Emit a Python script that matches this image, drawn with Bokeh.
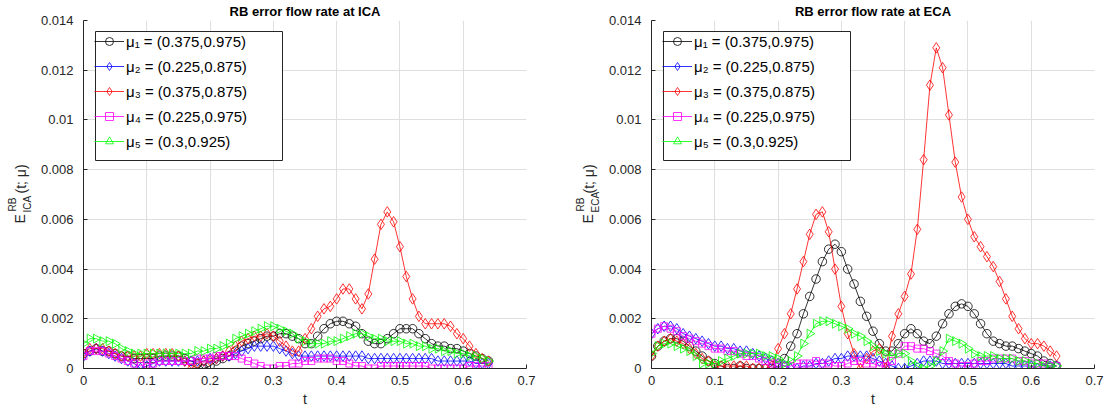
import math
from bokeh.plotting import figure
from bokeh.models import (Range1d, FixedTicker, CustomJSTickFormatter, Legend,
                          LegendItem, Label, BoxAnnotation)
from bokeh.layouts import row
from bokeh.embed import file_html
from bokeh.resources import INLINE

# ---------------- data ----------------
t = [0.00, 0.01, 0.02, 0.03, 0.04, 0.05, 0.06, 0.07, 0.08, 0.09,
     0.10, 0.11, 0.12, 0.13, 0.14, 0.15, 0.16, 0.17, 0.18, 0.19,
     0.20, 0.21, 0.22, 0.23, 0.24, 0.25, 0.26, 0.27, 0.28, 0.29,
     0.30, 0.31, 0.32, 0.33, 0.34, 0.35, 0.36, 0.37, 0.38, 0.39,
     0.40, 0.41, 0.42, 0.43, 0.44, 0.45, 0.46, 0.47, 0.48, 0.49,
     0.50, 0.51, 0.52, 0.53, 0.54, 0.55, 0.56, 0.57, 0.58, 0.59,
     0.60, 0.61, 0.62, 0.63, 0.64]

# ICA panel
ica_mu1 = [0.0006, 0.0007, 0.0008, 0.0007, 0.0007, 0.0006, 0.0005, 0.0005, 0.0004, 0.0004,
           0.0004, 0.0004, 0.0005, 0.0005, 0.0005, 0.0005, 0.0004, 0.0003, 0.0002, 0.0000,
           0.0001, 0.0003, 0.0004, 0.0005, 0.0007, 0.0009, 0.0010, 0.0011, 0.0012, 0.0013,
           0.0013, 0.0014, 0.0014, 0.0013, 0.0012, 0.0010, 0.0010, 0.0013, 0.0016, 0.0018,
           0.0019, 0.0019, 0.0018, 0.0017, 0.0014, 0.0011, 0.0010, 0.0010, 0.0012, 0.0014,
           0.0016, 0.0016, 0.0016, 0.0014, 0.0012, 0.0010, 0.0009, 0.0009, 0.0008, 0.0008,
           0.0007, 0.0006, 0.0005, 0.0004, 0.0003]
ica_mu2 = [0.0005, 0.0007, 0.0008, 0.0007, 0.0006, 0.0005, 0.0004, 0.0003, 0.0002, 0.0000,
           0.0001, 0.0002, 0.0003, 0.0003, 0.0003, 0.0003, 0.0003, 0.0003, 0.0003, 0.0003,
           0.0004, 0.0004, 0.0005, 0.0005, 0.0006, 0.0007, 0.0008, 0.0009, 0.0009, 0.0009,
           0.0009, 0.0008, 0.0007, 0.0006, 0.0005, 0.0005, 0.0005, 0.0005, 0.0005, 0.0005,
           0.0005, 0.0005, 0.0005, 0.0005, 0.0005, 0.0004, 0.0004, 0.0004, 0.0004, 0.0004,
           0.0004, 0.0004, 0.0004, 0.0004, 0.0004, 0.0004, 0.0003, 0.0003, 0.0003, 0.0003,
           0.0003, 0.0003, 0.0002, 0.0002, 0.0002]
ica_mu3 = [0.0006, 0.0008, 0.0008, 0.0008, 0.0007, 0.0006, 0.0005, 0.0005, 0.0005, 0.0005,
           0.0006, 0.0006, 0.0006, 0.0006, 0.0006, 0.0005, 0.0003, 0.0000, 0.0002, 0.0003,
           0.0003, 0.0004, 0.0005, 0.0007, 0.0009, 0.0011, 0.0012, 0.0013, 0.0013, 0.0014,
           0.0013, 0.0011, 0.0009, 0.0007, 0.0007, 0.0012, 0.0016, 0.0021, 0.0024, 0.0025,
           0.0028, 0.0032, 0.0032, 0.0028, 0.0024, 0.0030, 0.0044, 0.0058, 0.0063, 0.0059,
           0.0049, 0.0037, 0.0028, 0.0021, 0.0018, 0.0018, 0.0018, 0.0018, 0.0017, 0.0014,
           0.0012, 0.0009, 0.0006, 0.0004, 0.0003]
ica_mu4 = [0.0005, 0.0007, 0.0007, 0.0007, 0.0006, 0.0005, 0.0004, 0.0003, 0.0002, 0.0001,
           0.0002, 0.0002, 0.0003, 0.0003, 0.0003, 0.0003, 0.0003, 0.0003, 0.0004, 0.0004,
           0.0004, 0.0005, 0.0005, 0.0005, 0.0005, 0.0004, 0.0003, 0.0002, 0.0001, 0.0000,
           0.0000, 0.0001, 0.0001, 0.0002, 0.0002, 0.0003, 0.0003, 0.0004, 0.0004, 0.0004,
           0.0003, 0.0003, 0.0002, 0.0001, 0.0001, 0.0000, 0.0000, 0.0001, 0.0001, 0.0001,
           0.0001, 0.0001, 0.0001, 0.0001, 0.0001, 0.0000, 0.0000, 0.0000, 0.0000, 0.0000,
           0.0000, 0.0001, 0.0001, 0.0001, 0.0001]
ica_mu5 = [0.0010, 0.0012, 0.0012, 0.0011, 0.0011, 0.0010, 0.0008, 0.0007, 0.0006, 0.0006,
           0.0006, 0.0006, 0.0006, 0.0006, 0.0006, 0.0006, 0.0006, 0.0006, 0.0007, 0.0007,
           0.0008, 0.0008, 0.0009, 0.0010, 0.0012, 0.0013, 0.0014, 0.0015, 0.0016, 0.0017,
           0.0017, 0.0016, 0.0015, 0.0014, 0.0012, 0.0011, 0.0010, 0.0010, 0.0010, 0.0011,
           0.0011, 0.0012, 0.0013, 0.0014, 0.0014, 0.0013, 0.0012, 0.0012, 0.0011, 0.0011,
           0.0011, 0.0010, 0.0010, 0.0009, 0.0009, 0.0008, 0.0008, 0.0007, 0.0007, 0.0006,
           0.0006, 0.0005, 0.0005, 0.0004, 0.0003]

# ECA panel
eca_mu1 = [0.0005, 0.0009, 0.0011, 0.0012, 0.0012, 0.0011, 0.0009, 0.0007, 0.0005, 0.0003,
           0.0002, 0.0001, 0.0000, 0.0000, 0.0001, 0.0000, 0.0000, 0.0000, 0.0000, 0.0000,
           0.0001, 0.0004, 0.0009, 0.0014, 0.0022, 0.0029, 0.0036, 0.0043, 0.0048, 0.0050,
           0.0047, 0.0040, 0.0034, 0.0027, 0.0021, 0.0015, 0.0010, 0.0007, 0.0007, 0.0010,
           0.0014, 0.0016, 0.0014, 0.0011, 0.0010, 0.0013, 0.0018, 0.0022, 0.0025, 0.0026,
           0.0025, 0.0022, 0.0018, 0.0014, 0.0011, 0.0010, 0.0009, 0.0009, 0.0008, 0.0007,
           0.0006, 0.0005, 0.0003, 0.0002, 0.0001]
eca_mu2 = [0.0014, 0.0016, 0.0017, 0.0017, 0.0016, 0.0014, 0.0013, 0.0012, 0.0011, 0.0010,
           0.0009, 0.0009, 0.0008, 0.0008, 0.0007, 0.0007, 0.0006, 0.0005, 0.0004, 0.0003,
           0.0002, 0.0001, 0.0000, 0.0000, 0.0001, 0.0001, 0.0002, 0.0002, 0.0003, 0.0004,
           0.0004, 0.0005, 0.0005, 0.0005, 0.0005, 0.0004, 0.0003, 0.0002, 0.0001, 0.0000,
           0.0000, 0.0001, 0.0002, 0.0003, 0.0003, 0.0003, 0.0002, 0.0002, 0.0002, 0.0002,
           0.0002, 0.0002, 0.0002, 0.0002, 0.0002, 0.0002, 0.0002, 0.0001, 0.0001, 0.0001,
           0.0001, 0.0000, 0.0000, 0.0001, 0.0001]
eca_mu3 = [0.0005, 0.0009, 0.0011, 0.0012, 0.0011, 0.0010, 0.0008, 0.0006, 0.0004, 0.0003,
           0.0001, 0.0001, 0.0001, 0.0001, 0.0001, 0.0001, 0.0000, 0.0000, 0.0000, 0.0001,
           0.0008, 0.0014, 0.0022, 0.0032, 0.0043, 0.0054, 0.0062, 0.0063, 0.0055, 0.0040,
           0.0025, 0.0014, 0.0006, 0.0000, 0.0004, 0.0007, 0.0008, 0.0000, 0.0013, 0.0022,
           0.0029, 0.0038, 0.0056, 0.0084, 0.0114, 0.0129, 0.0121, 0.0102, 0.0083, 0.0069,
           0.0060, 0.0053, 0.0049, 0.0045, 0.0041, 0.0035, 0.0028, 0.0021, 0.0016, 0.0012,
           0.0010, 0.0010, 0.0009, 0.0007, 0.0005]
eca_mu4 = [0.0014, 0.0016, 0.0017, 0.0016, 0.0015, 0.0013, 0.0012, 0.0011, 0.0010, 0.0009,
           0.0008, 0.0008, 0.0007, 0.0007, 0.0006, 0.0005, 0.0005, 0.0004, 0.0003, 0.0002,
           0.0002, 0.0001, 0.0001, 0.0002, 0.0002, 0.0002, 0.0003, 0.0002, 0.0002, 0.0001,
           0.0001, 0.0002, 0.0003, 0.0003, 0.0002, 0.0002, 0.0001, 0.0001, 0.0003, 0.0006,
           0.0009, 0.0009, 0.0008, 0.0008, 0.0007, 0.0006, 0.0005, 0.0003, 0.0002, 0.0001,
           0.0001, 0.0002, 0.0003, 0.0003, 0.0004, 0.0004, 0.0004, 0.0004, 0.0003, 0.0003,
           0.0002, 0.0002, 0.0002, 0.0001, 0.0001]
eca_mu5 = [0.0006, 0.0009, 0.0010, 0.0010, 0.0009, 0.0008, 0.0007, 0.0005, 0.0002, 0.0002,
           0.0002, 0.0003, 0.0004, 0.0005, 0.0006, 0.0006, 0.0006, 0.0006, 0.0005, 0.0005,
           0.0004, 0.0002, 0.0003, 0.0005, 0.0010, 0.0014, 0.0018, 0.0019, 0.0019, 0.0018,
           0.0017, 0.0016, 0.0014, 0.0013, 0.0011, 0.0009, 0.0007, 0.0006, 0.0005, 0.0006,
           0.0006, 0.0003, 0.0001, 0.0000, 0.0001, 0.0003, 0.0007, 0.0012, 0.0011, 0.0010,
           0.0008, 0.0006, 0.0005, 0.0005, 0.0005, 0.0004, 0.0004, 0.0004, 0.0003, 0.0003,
           0.0002, 0.0002, 0.0001, 0.0001, 0.0001]

legend_labels = ["μ₁ = (0.375,0.975)", "μ₂ = (0.225,0.875)", "μ₃ = (0.375,0.875)",
                 "μ₄ = (0.225,0.975)", "μ₅ = (0.3,0.925)"]
titles = ["RB error flow rate at ICA", "RB error flow rate at ECA"]
y_subs = ["ICA", "ECA"]
x_ticks = [0, 0.1, 0.2, 0.3, 0.4, 0.5, 0.6, 0.7]
y_ticks = [0, 0.002, 0.004, 0.006, 0.008, 0.01, 0.012, 0.014]

colors = ["#000000", "#0000ff", "#ff0000", "#ff00ff", "#00ff00"]
markers = ["circle", "diamond", "diamond", "square", "triangle"]
msizes = [8.5, 10.5, 10.5, 7, 9]
mangles = [0, 0, 0, 0, -math.pi / 2]

FONT = "Liberation Sans"
AX = "#262626"
H = 414
TOP = 20
BOTTOM = 46
FW, FH = 443, H - TOP - BOTTOM
HELP_W = 34


def blank(width, height):
    f = figure(width=width, height=height, min_border=0,
               x_axis_location=None, y_axis_location=None,
               toolbar_location=None, output_backend="svg",
               x_range=Range1d(0, 1), y_range=Range1d(0, 1))
    f.outline_line_color = None
    f.grid.grid_line_color = None
    f.background_fill_color = "white"
    f.border_fill_color = "white"
    return f


def txt(f, x, y, text, size, align="center", baseline="alphabetic", angle=0,
        style="normal", color=AX):
    f.add_layout(Label(x=x, y=y, x_units="screen", y_units="screen",
                       text=text, angle=angle, text_align=align,
                       text_baseline=baseline, text_font=FONT,
                       text_font_style=style, text_font_size=size,
                       text_color=color))


def make_panel(series, title, left_b, right_b):
    p = figure(frame_width=FW, frame_height=FH,
               min_border_left=left_b, min_border_right=right_b,
               min_border_top=TOP, min_border_bottom=BOTTOM,
               x_range=Range1d(0, 0.7), y_range=Range1d(0, 0.014),
               output_backend="svg", toolbar_location=None, title=title)
    p.title.align = "center"
    p.title.text_font = FONT
    p.title.text_font_size = "13px"
    p.title.text_font_style = "bold"
    p.title.text_color = "#000000"
    p.title.standoff = 3
    p.outline_line_color = None
    p.background_fill_color = "white"
    p.border_fill_color = "white"

    p.xaxis.ticker = FixedTicker(ticks=x_ticks)
    p.yaxis.ticker = FixedTicker(ticks=y_ticks)
    fmt = "var s = tick.toFixed(%d); if (s.indexOf('.')>=0) { s = s.replace(/0+$/, '').replace(/\\.$/, ''); } return s;"
    p.xaxis.formatter = CustomJSTickFormatter(code=fmt % 1)
    p.yaxis.formatter = CustomJSTickFormatter(code=fmt % 3)
    for ax in (p.xaxis, p.yaxis):
        ax.axis_line_color = AX
        ax.axis_line_width = 1
        ax.major_tick_line_color = AX
        ax.major_tick_in = 4
        ax.major_tick_out = 0
        ax.minor_tick_line_color = None
        ax.major_label_text_font = FONT
        ax.major_label_text_font_size = "13px"
        ax.major_label_text_color = AX
    p.xaxis.major_label_standoff = 7
    p.yaxis.major_label_standoff = 10
    p.xaxis.axis_label = "t"
    p.xaxis.axis_label_text_font = FONT
    p.xaxis.axis_label_text_font_size = "14px"
    p.xaxis.axis_label_text_font_style = "normal"
    p.xaxis.axis_label_text_color = AX
    p.xaxis.axis_label_standoff = 3
    for g in (p.xgrid, p.ygrid):
        g.grid_line_color = "#dfdfdf"
        g.grid_line_width = 1
    p.xgrid.ticker = FixedTicker(ticks=x_ticks)
    p.ygrid.ticker = FixedTicker(ticks=y_ticks)

    items = []
    for vals, col, mk, ms, ang, lab in zip(series, colors, markers, msizes, mangles, legend_labels):
        lr = p.line(t, vals, line_color=col, line_width=0.8)
        sr = p.scatter(t, vals, marker=mk, size=ms, angle=ang, line_color=col,
                       fill_color=None, line_width=0.8)
        items.append(LegendItem(label=lab, renderers=[lr, sr]))

    # legend frame (MATLAB-like wide box), drawn behind the legend entries
    top_off, bot_off = 31 - TOP, 160 - TOP
    box = BoxAnnotation(left=0.7 * 12 / FW, right=0.7 * 199 / FW,
                        top=0.014 * (1 - top_off / FH), bottom=0.014 * (1 - bot_off / FH),
                        fill_color="white", fill_alpha=1.0,
                        line_color=AX, line_width=1, line_alpha=1.0)
    p.add_layout(box)

    leg = Legend(items=items, location="top_left", margin=11,
                 border_line_color=None, background_fill_alpha=0,
                 label_text_font=FONT, label_text_font_size="15px",
                 label_text_color="#000000",
                 glyph_width=30, glyph_height=20, label_height=20,
                 spacing=5, padding=5, label_standoff=2)
    p.add_layout(leg)
    return p


def ylabel_fig(sub, shift):
    # frame of this strip is aligned with the neighbouring plot frame (y from frame bottom)
    f = blank(HELP_W, H)
    rot = math.pi / 2
    txt(f, 19 - shift, 145, "E", "14px", align="left", baseline="middle", angle=rot)
    txt(f, 12 - shift, 157, "RB", "10px", align="left", baseline="middle", angle=rot)
    txt(f, 26.5 - shift, 156, sub, "10px", align="left", baseline="middle", angle=rot)
    txt(f, 20 - shift, 175, "(t; μ)", "14px", align="left", baseline="middle", angle=rot)
    return f


h1 = ylabel_fig(y_subs[0], 0)
h2 = ylabel_fig(y_subs[1], 2)
p1 = make_panel([ica_mu1, ica_mu2, ica_mu3, ica_mu4, ica_mu5], titles[0], 49, 44)
p2 = make_panel([eca_mu1, eca_mu2, eca_mu3, eca_mu4, eca_mu5], titles[1], 47, 16)

layout = row(h1, p1, h2, p2)
open("out.html", "w").write(file_html(layout, INLINE))
